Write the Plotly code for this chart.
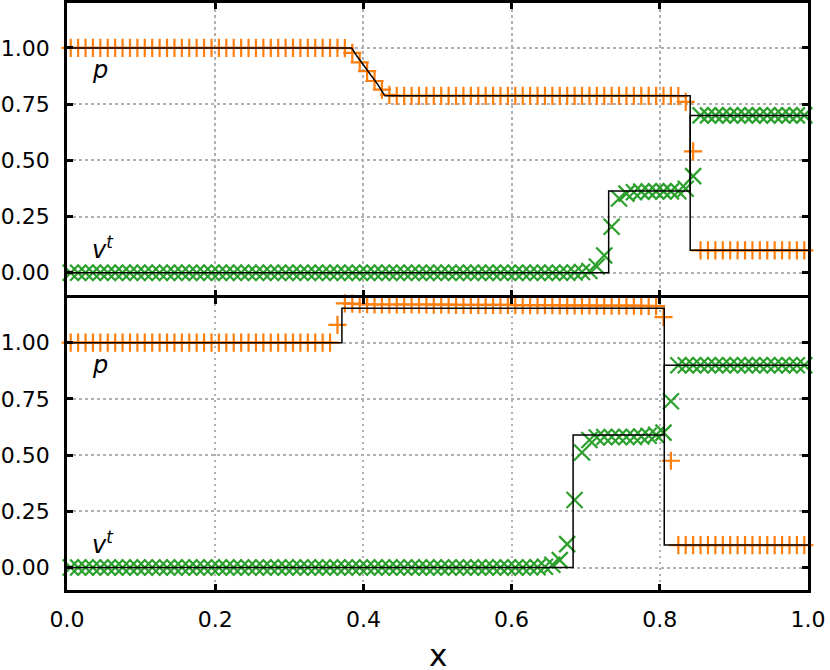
import plotly.graph_objects as go
from plotly.subplots import make_subplots

# cell-centre positions (100 cells)
x_cells = [0.005, 0.015, 0.025, 0.035, 0.045, 0.055, 0.065, 0.075, 0.085, 0.095,
           0.105, 0.115, 0.125, 0.135, 0.145, 0.155, 0.165, 0.175, 0.185, 0.195,
           0.205, 0.215, 0.225, 0.235, 0.245, 0.255, 0.265, 0.275, 0.285, 0.295,
           0.305, 0.315, 0.325, 0.335, 0.345, 0.355, 0.365, 0.375, 0.385, 0.395,
           0.405, 0.415, 0.425, 0.435, 0.445, 0.455, 0.465, 0.475, 0.485, 0.495,
           0.505, 0.515, 0.525, 0.535, 0.545, 0.555, 0.565, 0.575, 0.585, 0.595,
           0.605, 0.615, 0.625, 0.635, 0.645, 0.655, 0.665, 0.675, 0.685, 0.695,
           0.705, 0.715, 0.725, 0.735, 0.745, 0.755, 0.765, 0.775, 0.785, 0.795,
           0.805, 0.815, 0.825, 0.835, 0.845, 0.855, 0.865, 0.875, 0.885, 0.895,
           0.905, 0.915, 0.925, 0.935, 0.945, 0.955, 0.965, 0.975, 0.985, 0.995]

# ---- top panel: numerical p and v^t ----
top_p = [1.0, 1.0, 1.0, 1.0, 1.0, 1.0, 1.0, 1.0, 1.0, 1.0,
         1.0, 1.0, 1.0, 1.0, 1.0, 1.0, 1.0, 1.0, 1.0, 1.0,
         1.0, 1.0, 1.0, 1.0, 1.0, 1.0, 1.0, 1.0, 1.0, 1.0,
         1.0, 1.0, 1.0, 1.0, 1.0, 1.0, 1.0, 0.999, 0.978, 0.936,
         0.897, 0.853, 0.815, 0.791, 0.787, 0.787, 0.787, 0.787, 0.787, 0.787,
         0.787, 0.787, 0.787, 0.787, 0.787, 0.787, 0.787, 0.787, 0.787, 0.787,
         0.787, 0.787, 0.787, 0.787, 0.787, 0.787, 0.787, 0.787, 0.787, 0.787,
         0.787, 0.787, 0.787, 0.787, 0.787, 0.787, 0.787, 0.787, 0.787, 0.787,
         0.787, 0.787, 0.786, 0.76, 0.54, 0.1, 0.1, 0.1, 0.1, 0.1,
         0.1, 0.1, 0.1, 0.1, 0.1, 0.1, 0.1, 0.1, 0.1, 0.1]

top_v = [0.0, 0.0, 0.0, 0.0, 0.0, 0.0, 0.0, 0.0, 0.0, 0.0,
         0.0, 0.0, 0.0, 0.0, 0.0, 0.0, 0.0, 0.0, 0.0, 0.0,
         0.0, 0.0, 0.0, 0.0, 0.0, 0.0, 0.0, 0.0, 0.0, 0.0,
         0.0, 0.0, 0.0, 0.0, 0.0, 0.0, 0.0, 0.0, 0.0, 0.0,
         0.0, 0.0, 0.0, 0.0, 0.0, 0.0, 0.0, 0.0, 0.0, 0.0,
         0.0, 0.0, 0.0, 0.0, 0.0, 0.0, 0.0, 0.0, 0.0, 0.0,
         0.0, 0.0, 0.0, 0.0, 0.0, 0.0, 0.0, 0.0, 0.001, 0.003,
         0.008, 0.028, 0.077, 0.205, 0.33, 0.352, 0.358, 0.361, 0.362, 0.362,
         0.362, 0.362, 0.363, 0.374, 0.43, 0.70, 0.70, 0.70, 0.70, 0.70,
         0.70, 0.70, 0.70, 0.70, 0.70, 0.70, 0.70, 0.70, 0.70, 0.70]

# ---- bottom panel: numerical p and v^t ----
bot_p = [1.0, 1.0, 1.0, 1.0, 1.0, 1.0, 1.0, 1.0, 1.0, 1.0,
         1.0, 1.0, 1.0, 1.0, 1.0, 1.0, 1.0, 1.0, 1.0, 1.0,
         1.0, 1.0, 1.0, 1.0, 1.0, 1.0, 1.0, 1.0, 1.0, 1.0,
         1.0, 1.0, 1.0, 1.0, 1.0, 1.0, 1.079, 1.175, 1.174, 1.172,
         1.171, 1.170, 1.170, 1.170, 1.170, 1.170, 1.170, 1.170, 1.170, 1.169,
         1.169, 1.169, 1.168, 1.168, 1.168, 1.168, 1.168, 1.168, 1.168, 1.168,
         1.167, 1.167, 1.167, 1.167, 1.167, 1.167, 1.166, 1.166, 1.166, 1.166,
         1.166, 1.165, 1.165, 1.165, 1.165, 1.165, 1.165, 1.164, 1.164, 1.163,
         1.114, 0.475, 0.1, 0.1, 0.1, 0.1, 0.1, 0.1, 0.1, 0.1,
         0.1, 0.1, 0.1, 0.1, 0.1, 0.1, 0.1, 0.1, 0.1, 0.1]

bot_v = [0.0, 0.0, 0.0, 0.0, 0.0, 0.0, 0.0, 0.0, 0.0, 0.0,
         0.0, 0.0, 0.0, 0.0, 0.0, 0.0, 0.0, 0.0, 0.0, 0.0,
         0.0, 0.0, 0.0, 0.0, 0.0, 0.0, 0.0, 0.0, 0.0, 0.0,
         0.0, 0.0, 0.0, 0.0, 0.0, 0.0, 0.0, 0.0, 0.0, 0.0,
         0.0, 0.0, 0.0, 0.0, 0.0, 0.0, 0.0, 0.0, 0.0, 0.0,
         0.0, 0.0, 0.0, 0.0, 0.0, 0.0, 0.0, 0.0, 0.0, 0.0,
         0.0, 0.0, 0.0, 0.001, 0.003, 0.012, 0.033, 0.104, 0.30, 0.512,
         0.567, 0.578, 0.581, 0.581, 0.581, 0.581, 0.581, 0.583, 0.586, 0.59,
         0.60, 0.74, 0.90, 0.90, 0.90, 0.90, 0.90, 0.90, 0.90, 0.90,
         0.90, 0.90, 0.90, 0.90, 0.90, 0.90, 0.90, 0.90, 0.90, 0.90]

# ---- exact solutions (black lines) ----
top_exact_p_x = [0.0, 0.384, 0.39, 0.40, 0.41, 0.42, 0.429, 0.841, 0.841, 1.0]
top_exact_p_y = [1.0, 1.0, 0.97, 0.925, 0.88, 0.835, 0.787, 0.787, 0.1, 0.1]
top_exact_v_x = [0.0, 0.731, 0.731, 0.841, 0.841, 1.0]
top_exact_v_y = [0.0, 0.0, 0.364, 0.364, 0.70, 0.70]

bot_exact_p_x = [0.0, 0.371, 0.371, 0.806, 0.806, 1.0]
bot_exact_p_y = [1.0, 1.0, 1.153, 1.153, 0.1, 0.1]
bot_exact_v_x = [0.0, 0.683, 0.683, 0.806, 0.806, 1.0]
bot_exact_v_y = [0.0, 0.0, 0.589, 0.589, 0.90, 0.90]

x_ticks = [0.0, 0.2, 0.4, 0.6, 0.8, 1.0]
y_ticks = [0.0, 0.25, 0.5, 0.75, 1.0]

ORANGE = "#ff7f0e"
GREEN = "#2ca02c"
FONT = "DejaVu Sans"

LW = 2.5
PLOT_H = 670 - 3 - 80
gap = LW / PLOT_H

fig = make_subplots(rows=2, cols=1, shared_xaxes=True, vertical_spacing=gap)

panels = [
    (1, top_p, top_v, top_exact_p_x, top_exact_p_y, top_exact_v_x, top_exact_v_y),
    (2, bot_p, bot_v, bot_exact_p_x, bot_exact_p_y, bot_exact_v_x, bot_exact_v_y),
]
for row, pv, vv, epx, epy, evx, evy in panels:
    fig.add_trace(go.Scatter(x=x_cells, y=pv, mode="markers",
                             marker=dict(symbol="cross-thin", size=13,
                                         line=dict(color=ORANGE, width=2.2)),
                             showlegend=False, cliponaxis=False), row=row, col=1)
    fig.add_trace(go.Scatter(x=x_cells, y=vv, mode="markers",
                             marker=dict(symbol="x-thin", size=16,
                                         line=dict(color=GREEN, width=2.2)),
                             showlegend=False, cliponaxis=False), row=row, col=1)
    fig.add_trace(go.Scatter(x=epx, y=epy, mode="lines",
                             line=dict(color="black", width=1.5),
                             showlegend=False), row=row, col=1)
    fig.add_trace(go.Scatter(x=evx, y=evy, mode="lines",
                             line=dict(color="black", width=1.5),
                             showlegend=False), row=row, col=1)

axis_common = dict(
    showline=True, linecolor="black", linewidth=LW, mirror="allticks",
    ticks="inside", ticklen=6, tickwidth=2.5, tickcolor="black",
    showgrid=True, gridcolor="#b0b0b0", gridwidth=2.4, griddash="2.5px,3.5px",
    zeroline=False, automargin=False,
    tickfont=dict(family=FONT, size=22, color="black"),
)

fig.update_xaxes(range=[0, 1], tickvals=x_ticks, tickformat=".1f", **axis_common)
fig.update_xaxes(showticklabels=False, row=1, col=1)
fig.update_xaxes(ticklabelstandoff=8, row=2, col=1)
fig.update_yaxes(range=[-0.1, 1.2], tickvals=y_ticks, tickformat=".2f",
                 ticklabelstandoff=10, **axis_common)

# x-axis title (as annotation so it can sit lower in the margin)
fig.add_annotation(x=0.5, y=-0.1107, xref="paper", yref="paper", text="x",
                   showarrow=False, xanchor="center", yanchor="middle",
                   font=dict(family=FONT, size=31, color="black"))

# panel labels
for xr, yr in [("x", "y"), ("x2", "y2")]:
    fig.add_annotation(x=0.031, y=0.90, xref=xr, yref=yr,
                       text="<i>p</i>", showarrow=False, xanchor="left", yanchor="middle",
                       font=dict(family=FONT, size=24, color="black"))
    fig.add_annotation(x=0.031, y=0.108, xref=xr, yref=yr,
                       text="<i>v</i><sup><i>t</i></sup>", showarrow=False, xanchor="left",
                       yanchor="middle", font=dict(family=FONT, size=24, color="black"))

fig.update_layout(
    width=830, height=670,
    margin=dict(l=67, r=22, t=3, b=80),
    paper_bgcolor="white", plot_bgcolor="white",
    font=dict(family=FONT, color="black"),
)

fig.write_html("out.html", config={"displayModeBar": False},
               post_script="document.body.style.margin='0';")
